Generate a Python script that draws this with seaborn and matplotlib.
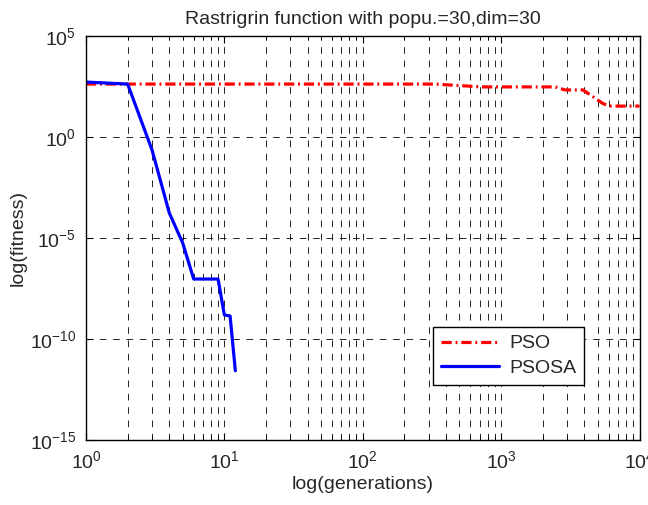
import numpy as np
import pandas as pd
import matplotlib
matplotlib.use("Agg")
import matplotlib.pyplot as plt
import matplotlib.ticker as mticker
import seaborn as sns

# ---- data ----
pso_gen = [1, 330, 720, 2460, 2900, 3900, 4600, 5400, 6000, 10000]
pso_logfit = [2.62, 2.62, 2.48, 2.48, 2.33, 2.33, 2.00, 1.67, 1.53, 1.53]

psosa_gen = [1, 2, 3, 4, 5, 6, 7, 8, 9, 10, 11, 12]
psosa_logfit = [2.72, 2.62, -0.64, -3.76, -5.25, -7.03, -7.03, -7.03, -7.03, -8.81, -8.86, -11.57]

title = "Rastrigrin function with popu.=30,dim=30"
xlabel = "log(generations)"
ylabel = "log(fitness)"
y_ticks = [1e-15, 1e-10, 1e-5, 1e0, 1e5]

sns.set_style("white")
plt.rcParams["font.family"] = ["Liberation Sans", "DejaVu Sans"]
plt.rcParams["mathtext.fontset"] = "custom"
plt.rcParams["mathtext.rm"] = "Liberation Sans"
plt.rcParams["mathtext.it"] = "Liberation Sans:italic"
plt.rcParams["mathtext.bf"] = "Liberation Sans:bold"
plt.rcParams["axes.unicode_minus"] = False

df_pso = pd.DataFrame({"gen": pso_gen, "fit": np.power(10.0, pso_logfit)})
df_sa = pd.DataFrame({"gen": psosa_gen, "fit": np.power(10.0, psosa_logfit)})

fig = plt.figure(figsize=(6.48, 5.05), dpi=100)
ax = fig.add_axes([86 / 648, 65 / 505, (639.5 - 86) / 648, 404 / 505])
ax.set_xscale("log")
ax.set_yscale("log")

sns.lineplot(data=df_pso, x="gen", y="fit", ax=ax, color="#ff0000",
             linewidth=2.3, linestyle=(0, (3.2, 1.2, 0.6, 1.2)),
             estimator=None, label="PSO")
sns.lineplot(data=df_sa, x="gen", y="fit", ax=ax, color="#0000ff",
             linewidth=2.3, estimator=None, label="PSOSA")

ax.set_xlim(1, 1e4)
ax.set_ylim(1e-15, 1e5)
ax.set_yticks(y_ticks)
ax.yaxis.set_major_formatter(mticker.LogFormatterSciNotation())
ax.yaxis.set_minor_locator(mticker.NullLocator())
ax.xaxis.set_major_locator(mticker.LogLocator(base=10, numticks=10))
ax.xaxis.set_minor_locator(mticker.LogLocator(base=10, subs=np.arange(2, 10), numticks=20))
ax.xaxis.set_minor_formatter(mticker.NullFormatter())

grid_kw = dict(color="black", linestyle=(0, (8, 8)), linewidth=0.6)
ax.grid(True, which="major", axis="both", **grid_kw)
ax.grid(True, which="minor", axis="x", **grid_kw)

ax.tick_params(which="both", direction="in", top=True, right=True,
               bottom=True, left=True, color="black")
ax.tick_params(which="major", length=5, width=0.8, labelsize=14, pad=7)
ax.tick_params(which="minor", length=3, width=0.6)
for s in ax.spines.values():
    s.set_color("black")
    s.set_linewidth(1.0)

ax.set_title(title, fontsize=14, pad=9)
ax.set_xlabel(xlabel, fontsize=14, labelpad=3)
ax.set_ylabel(ylabel, fontsize=14, labelpad=2)

leg = ax.legend(loc="lower left", bbox_to_anchor=(0.61, 0.113), fontsize=14,
                frameon=True, fancybox=False, framealpha=1, edgecolor="black",
                handlelength=3.0, borderpad=0.4, labelspacing=0.35,
                handletextpad=0.5)
leg.get_frame().set_linewidth(1.0)

fig.savefig("out.png", dpi=100, facecolor="white")
